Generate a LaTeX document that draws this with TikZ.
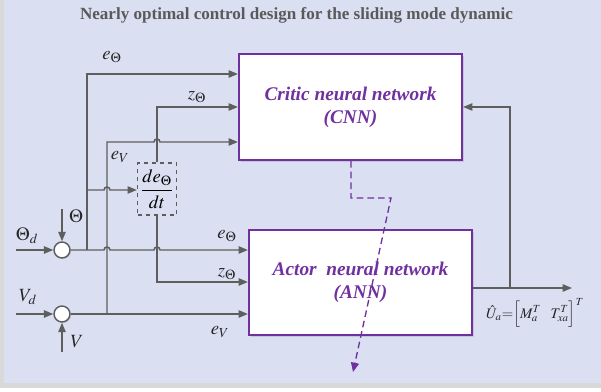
\documentclass[tikz,border=0pt]{standalone}
\usepackage{mathptmx}
\usepackage[no-math]{fontspec}
\setmainfont{Liberation Serif}
\usetikzlibrary{arrows.meta,shadows}
\definecolor{bgc}{HTML}{DAE0F2}
\definecolor{lnc}{HTML}{5E5E5E}
\definecolor{purc}{HTML}{7030A0}
\definecolor{titc}{HTML}{5A5A5A}
\begin{document}
\begin{tikzpicture}[x=0.75pt,y=-0.75pt,
  ln/.style={draw=lnc, line width=1.1pt},
  arr/.style={ln, -{Triangle[length=7pt,width=5.5pt]}},
  nnbox/.style={draw=purc, line width=1.6pt, fill=white, align=center,
     text=purc, font=\fontsize{14.5}{17.25}\selectfont\bfseries\itshape,
     minimum width=167.25pt, inner sep=0pt,
     drop shadow={opacity=0.25, shadow xshift=1.2pt, shadow yshift=-1.2pt}},
  sumc/.style={circle, draw=lnc, line width=1.1pt, fill=white, minimum size=12pt, inner sep=0pt,
     drop shadow={opacity=0.25, shadow xshift=0.8pt, shadow yshift=-0.8pt}},
  lab/.style={font=\fontsize{14}{16}\selectfont, text=black!85, inner sep=0pt}]
\useasboundingbox (0,0) rectangle (601,392);
\fill[white] (0,0) rectangle (601,392);
\fill[black!15] (0,0) rectangle (601,388);
\fill[bgc] (4,0) rectangle (601,383);

\node[font=\fontsize{12.8}{14}\selectfont\bfseries, text=titc] (title) at (296.5,15)
  {Nearly optimal control design for the sliding mode dynamic};

\node[nnbox, minimum height=79.5pt] (cnn) at (350.5,107) {Critic neural network\\(CNN)};
\node[nnbox, minimum height=78.75pt] (ann) at (360.5,282.5) {Actor\ \ neural network\\(ANN)};

\node[draw=lnc, dashed, line width=1pt, fill=bgc, minimum width=29.25pt, minimum height=39pt, inner sep=0pt,
  font=\fontsize{14}{16}\selectfont] (dd) at (157,189) {$\displaystyle\frac{de_{\Theta}}{dt}$};

\node[sumc] (s1) at (62,250) {};
\node[sumc] (s2) at (62,314) {};

% coordinates
\coordinate (in1) at (16,250);
\coordinate (in2) at (62,209);
\coordinate (in3) at (16,314);
\coordinate (in4) at (62,352);
\coordinate (j1) at (87,250);
\coordinate (j1t) at (87,74);
\coordinate (j1d) at (87,190);
\coordinate (j2) at (107,314);
\coordinate (j2t) at (107,142);
\coordinate (zt) at (157,107);
\coordinate (zb) at (157,282);
\coordinate (o1) at (472,288);
\coordinate (o2) at (572,288);
\coordinate (fb) at (510,288);
\coordinate (fbt) at (510,107);
\coordinate (pd1) at (351,198);
\coordinate (pd2) at (391,198);
\coordinate (pd3) at (353,372);

% inputs
\draw[arr] (in1) -- (s1.west);
\draw[arr] (in2) -- (s1.north);
\draw[arr] (in3) -- (s2.west);
\draw[arr] (in4) -- (s2.south);

% e_Theta to ANN with hops
\draw[arr] (s1.east) -- (104,250) arc[start angle=180,end angle=0,radius=2.25pt]
  -- (154,250) arc[start angle=180,end angle=0,radius=2.25pt] -- (ann.west |- s1);
% e_Theta to CNN
\draw[arr] (j1) -- (j1t) -- (cnn.west |- j1t);
% e_Theta to derivative
\draw[arr] (j1d) -- (104,190) arc[start angle=180,end angle=0,radius=2.25pt] -- (dd.west |- j1d);
% e_V to ANN
\draw[arr] (s2.east) -- (ann.west |- s2);
% e_V to CNN
\draw[arr] (j2) -- (j2t) -- (154,142) arc[start angle=180,end angle=0,radius=2.25pt] -- (cnn.west |- j2t);
% z to CNN and ANN
\draw[arr] (dd.north) -- (zt) -- (cnn.west |- zt);
\draw[arr] (dd.south) -- (zb) -- (ann.west |- zb);
% output and feedback
\draw[arr] (ann.east |- o1) -- (o2);
\draw[arr] (fb) -- (fbt) -- (cnn.east |- fbt);

% purple dashed arrow
\draw[purc, line width=1pt, dash pattern=on 5pt off 3pt, -{Triangle[length=7pt,width=6pt]}]
  (cnn.south -| pd1) -- (pd1) -- (pd2) -- (pd3);

% labels
\node[lab] (l1) at (112,57) {$e_{\Theta}$};
\node[lab] (l2) at (197,97) {$z_{\Theta}$};
\node[lab] (l3) at (120,157) {$e_{V}$};
\node[lab] (l4) at (227,236) {$e_{\Theta}$};
\node[lab] (l5) at (227,274) {$z_{\Theta}$};
\node[lab] (l6) at (220,332) {$e_{V}$};
\node[lab] (l7) at (27,236) {$\Theta_{d}$};
\node[lab] (l8) at (76,216) {$\Theta$};
\node[lab] (l9) at (28,297) {$V_{d}$};
\node[lab] (l10) at (77,342) {$V$};
\node[lab, font=\fontsize{11}{12}\selectfont] (l11) at (535,313)
  {$\hat{U}_{a}{=}\Bigl[M_{a}^{T}\;\;\; T_{xa}^{T}\Bigr]^{T}$};
\end{tikzpicture}
\end{document}
